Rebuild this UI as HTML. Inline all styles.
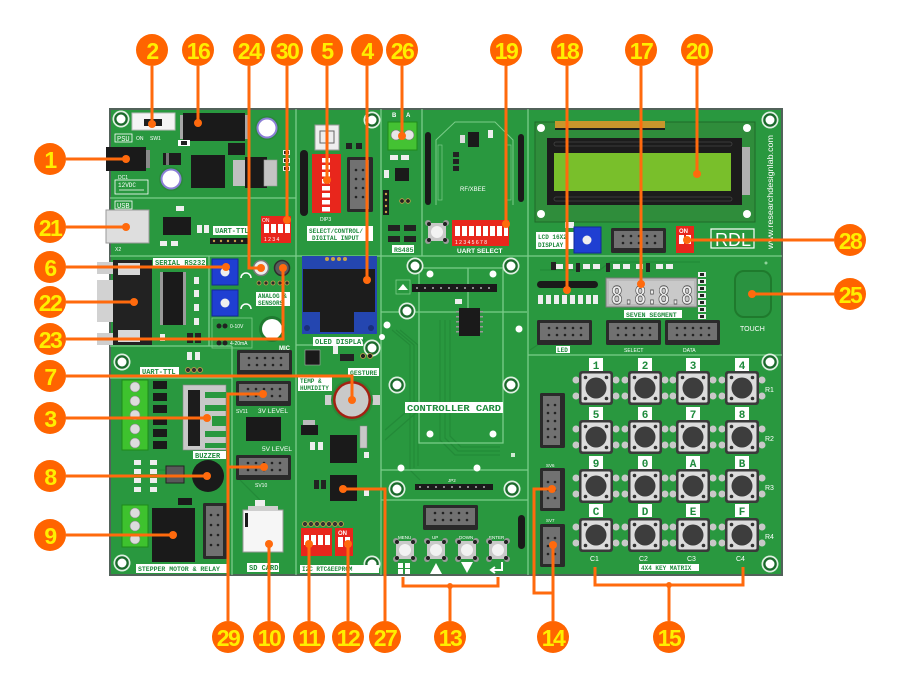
<!DOCTYPE html>
<html><head><meta charset="utf-8"><style>
html,body{margin:0;padding:0;background:#fff;}
svg{display:block;}
.l{font-family:"Liberation Mono",monospace;font-weight:bold;fill:#1e8a3c;}
.w{font-family:"Liberation Sans",sans-serif;fill:#fff;}
.m{font-family:"Liberation Mono",monospace;fill:#fff;}
.n{font-family:"Liberation Sans",sans-serif;font-weight:bold;font-size:23px;fill:#ffee00;text-anchor:middle;letter-spacing:-1.5px;}
.k{font-family:"Liberation Mono",monospace;font-weight:bold;font-size:11px;fill:#1e8a3c;text-anchor:middle;}
</style></head><body>
<svg width="900" height="690" viewBox="0 0 900 690" xmlns="http://www.w3.org/2000/svg">
<defs>
 <g id="hole"><circle r="8.5" fill="#dff0e2"/><circle r="6.8" fill="#1a6a2b"/><circle r="4.5" fill="#fff"/></g>
 <g id="key">
  <g fill="#c8c8c8"><circle cx="-20" cy="-8" r="3.5"/><circle cx="-20" cy="8" r="3.5"/><circle cx="20" cy="-8" r="3.5"/><circle cx="20" cy="8" r="3.5"/></g>
  <rect x="-17" y="-17" width="34" height="34" rx="3" fill="#3a3a3a"/>
  <rect x="-14.5" y="-14.5" width="29" height="29" rx="1.5" fill="#dcdcdc"/>
  <circle r="10.5" fill="#3d3d3d"/>
  <g fill="#333"><circle cx="-10.5" cy="-10.5" r="1.8"/><circle cx="10.5" cy="-10.5" r="1.8"/><circle cx="-10.5" cy="10.5" r="1.8"/><circle cx="10.5" cy="10.5" r="1.8"/></g>
 </g>
 <g id="hdr">
  <rect width="55" height="25" rx="1.5" fill="#2a2a2a"/><rect x="3" y="3" width="49" height="17" fill="#717171"/><rect x="21" y="20" width="13" height="5" fill="#2a2a2a"/>
  <g fill="#222"><circle cx="12" cy="8" r="1.3"/><circle cx="20" cy="8" r="1.3"/><circle cx="28" cy="8" r="1.3"/><circle cx="36" cy="8" r="1.3"/><circle cx="44" cy="8" r="1.3"/><circle cx="12" cy="15" r="1.3"/><circle cx="20" cy="15" r="1.3"/><circle cx="28" cy="15" r="1.3"/><circle cx="36" cy="15" r="1.3"/><circle cx="44" cy="15" r="1.3"/></g>
 </g>
 <g id="vhdr">
  <rect width="25" height="55" rx="1.5" fill="#2a2a2a"/><rect x="3" y="3" width="17" height="49" fill="#717171"/><rect x="20" y="21" width="5" height="13" fill="#2a2a2a"/>
  <g fill="#222"><circle cx="8" cy="12" r="1.3"/><circle cx="15" cy="12" r="1.3"/><circle cx="8" cy="20" r="1.3"/><circle cx="15" cy="20" r="1.3"/><circle cx="8" cy="28" r="1.3"/><circle cx="15" cy="28" r="1.3"/><circle cx="8" cy="36" r="1.3"/><circle cx="15" cy="36" r="1.3"/><circle cx="8" cy="44" r="1.3"/><circle cx="15" cy="44" r="1.3"/></g>
 </g>
 <g id="vhdr2">
  <rect width="25" height="43" rx="1.5" fill="#2a2a2a"/><rect x="3" y="3" width="17" height="37" fill="#717171"/><rect x="20" y="15" width="5" height="13" fill="#2a2a2a"/>
  <g fill="#222"><circle cx="8" cy="14" r="1.3"/><circle cx="15" cy="14" r="1.3"/><circle cx="8" cy="22" r="1.3"/><circle cx="15" cy="22" r="1.3"/><circle cx="8" cy="30" r="1.3"/><circle cx="15" cy="30" r="1.3"/></g>
 </g>
 <g id="tact">
  <g fill="#9a9a9a"><circle cx="-9" cy="-9" r="3"/><circle cx="9" cy="-9" r="3"/><circle cx="-9" cy="9" r="3"/><circle cx="9" cy="9" r="3"/></g>
  <rect x="-9" y="-9" width="18" height="18" rx="2" fill="#c9c9c9"/>
  <circle r="6" fill="#f2f2f2"/>
  <g fill="#222"><circle cx="-8" cy="-8" r="2"/><circle cx="8" cy="-8" r="2"/><circle cx="-8" cy="8" r="2"/><circle cx="8" cy="8" r="2"/></g>
 </g>
 <g id="cap"><circle r="12" fill="#2a8a3a"/><circle r="10.5" fill="#8b7fd6"/><circle r="8.5" fill="#fff"/></g>
</defs>

<!-- BOARD -->
<rect x="110" y="109" width="672" height="466" fill="#29983f" stroke="#52625a" stroke-width="2"/>

<!-- traces (texture) -->
<g stroke="#238a38" stroke-width="1.2" fill="none">
 <path d="M392 330 L410 345 V470 L420 480"/><path d="M396 330 L414 345 V468"/><path d="M400 330 L418 345 V466"/>
 <path d="M440 320 V440 L455 455 H500"/><path d="M445 320 V438 L458 451 H500"/><path d="M450 320 V436 L461 447 H500"/>
 <path d="M385 430 L420 400"/><path d="M385 440 L425 405"/>
 <path d="M540 270 H600 L610 262 H700"/><path d="M530 350 L545 340"/>
 <path d="M150 470 H165"/><path d="M240 480 L260 500"/>
</g>

<!-- section lines -->
<g stroke="#7ccd8a" stroke-width="1.3" fill="none">
 <path d="M296 109 V575"/><path d="M381 109 V575"/><path d="M528 109 V575"/>
 <path d="M110 198 H296"/><path d="M110 256 H782"/>
 <path d="M209 256 V346"/><path d="M110 346 H232"/><path d="M232 346 V575"/>
 <path d="M110 378 H232"/><path d="M528 355 H782"/>
 <path d="M422 109 V256"/>
 <path d="M381 312 H527"/><path d="M381 500 H528"/><path d="M381 470 H528"/>
 <path d="M419 268 H503 V443 H419 Z"/><path d="M468 268 V312"/>
 <path d="M296 345 H381"/>
</g>

<!-- mounting holes -->
<use href="#hole" x="121" y="119"/><use href="#hole" x="372" y="120"/><use href="#hole" x="770" y="120"/>
<use href="#hole" x="122" y="362"/><use href="#hole" x="122" y="563"/><use href="#hole" x="372" y="564"/>
<use href="#hole" x="372" y="348"/><use href="#hole" x="770" y="362"/><use href="#hole" x="770" y="564"/>
<use href="#hole" x="415" y="266"/><use href="#hole" x="511" y="266"/><use href="#hole" x="407" y="311"/>
<use href="#hole" x="397" y="385"/><use href="#hole" x="511" y="385"/><use href="#hole" x="397" y="489"/><use href="#hole" x="512" y="489"/>
<g fill="#fff"><circle cx="430" cy="274" r="3.5"/><circle cx="493" cy="274" r="3.5"/><circle cx="387" cy="325" r="3.5"/><circle cx="519" cy="329" r="3.5"/><circle cx="430" cy="434" r="3.5"/><circle cx="493" cy="434" r="3.5"/><circle cx="401" cy="468" r="3.5"/><circle cx="477" cy="468" r="3.5"/><circle cx="382" cy="337" r="3"/></g>

<!-- ===== PSU ===== -->
<rect x="132" y="113" width="43" height="17" fill="#f4f4f4" stroke="#bbb"/>
<rect x="144" y="119" width="18" height="7" fill="#1e1e1e"/>
<text x="136" y="140" class="w" font-size="5">ON</text><text x="150" y="140" class="w" font-size="5">SW1</text>
<rect x="115" y="134" width="17" height="8" fill="none" stroke="#fff" stroke-width="0.8"/><text x="117" y="141" class="m" font-size="7">PSU</text>
<rect x="145" y="150" width="5" height="18" fill="#8a8a8a"/>
<rect x="106" y="147" width="40" height="24" fill="#1a1a1a"/>
<text x="118" y="179" class="w" font-size="5">DC1</text>
<rect x="115" y="180" width="33" height="14" fill="none" stroke="#fff" stroke-width="0.8"/><text x="118" y="187" class="m" font-size="6">12VDC</text>
<path d="M119 190 H144" stroke="#fff" stroke-width="0.8"/>
<rect x="180" y="115" width="68" height="24" fill="#a8a8a8"/>
<rect x="183" y="113" width="62" height="28" fill="#1a1a1a"/>
<use href="#cap" x="267" y="128"/><use href="#cap" x="171" y="179"/>
<rect x="163" y="153" width="18" height="12" fill="#1c1c1c"/><rect x="166" y="153" width="3" height="12" fill="#777"/>
<rect x="228" y="143" width="17" height="12" fill="#1c1c1c"/>
<rect x="178" y="140" width="12" height="6" fill="#fff"/><rect x="181" y="141" width="6" height="4" fill="#222"/>
<rect x="191" y="155" width="34" height="33" fill="#1a1a1a"/>
<rect x="233" y="160" width="12" height="26" fill="#c0c0c0"/>
<rect x="245" y="157" width="22" height="31" fill="#1a1a1a"/><rect x="264" y="160" width="13" height="26" fill="#c4c4c4" stroke="#999" stroke-width="0.6"/>
<g fill="#eee"><rect x="283" y="150" width="7" height="5"/><rect x="283" y="158" width="7" height="5"/><rect x="283" y="166" width="7" height="5"/></g>
<g fill="#222"><rect x="284" y="151" width="5" height="3"/><rect x="284" y="159" width="5" height="3"/><rect x="284" y="167" width="5" height="3"/></g>

<!-- ===== USB ===== -->
<rect x="115" y="201" width="17" height="8" fill="none" stroke="#fff" stroke-width="0.8"/><text x="117" y="208" class="m" font-size="7">USB</text>
<rect x="106" y="210" width="43" height="33" fill="#dedede" stroke="#9a9a9a"/>
<text x="115" y="251" class="w" font-size="5">X2</text>
<rect x="163" y="217" width="28" height="18" fill="#1a1a1a"/>
<rect x="176" y="206" width="8" height="5" fill="#eee"/>
<g fill="#eee"><rect x="197" y="225" width="5" height="8"/><rect x="204" y="225" width="5" height="8"/><rect x="160" y="241" width="7" height="5"/><rect x="171" y="241" width="7" height="5"/></g>
<rect x="213" y="226" width="36" height="9" fill="#fff"/><text x="215" y="233" class="l" font-size="7">UART-TTL</text>
<rect x="210" y="238" width="40" height="6" fill="#1a1a1a"/>
<g fill="#c9a24a"><circle cx="214" cy="241" r="1.2"/><circle cx="221" cy="241" r="1.2"/><circle cx="228" cy="241" r="1.2"/><circle cx="235" cy="241" r="1.2"/><circle cx="242" cy="241" r="1.2"/></g>
<rect x="261" y="216" width="30" height="27" fill="#e8261c"/>
<text x="262" y="222" class="w" font-size="5">ON</text>
<g fill="#fff"><rect x="264" y="224" width="5" height="9"/><rect x="271" y="224" width="5" height="9"/><rect x="278" y="224" width="5" height="9"/><rect x="285" y="224" width="5" height="9"/></g>
<text x="264" y="241" class="w" font-size="5">1 2 3 4</text>

<!-- ===== SERIAL ===== -->
<rect x="97" y="280" width="17" height="42" fill="#d2d2d2"/>
<rect x="97" y="262" width="22" height="12" fill="#cfcfcf"/><rect x="97" y="333" width="22" height="12" fill="#cfcfcf"/>
<rect x="113" y="260" width="39" height="85" fill="#222"/>
<rect x="118" y="263" width="22" height="12" fill="#d8d8d8"/><rect x="118" y="330" width="22" height="12" fill="#d8d8d8"/>
<rect x="153" y="258" width="53" height="9" fill="#fff"/><text x="155" y="265" class="l" font-size="7">SERIAL RS232</text>
<rect x="160" y="272" width="26" height="53" fill="#9a9a9a"/><rect x="163" y="272" width="20" height="53" fill="#1a1a1a"/>
<g fill="#eee"><rect x="194" y="277" width="5" height="7"/><rect x="194" y="290" width="5" height="7"/><rect x="194" y="304" width="5" height="7"/><rect x="194" y="318" width="5" height="7"/><rect x="160" y="334" width="5" height="7"/></g>
<rect x="187" y="333" width="6" height="10" fill="#222"/><rect x="195" y="333" width="6" height="10" fill="#222"/>

<!-- ===== ANALOG ===== -->
<rect x="212" y="259" width="26" height="26" fill="#1f3fd2" stroke="#13289a"/><circle cx="225" cy="272" r="4.5" fill="#eee"/>
<rect x="212" y="290" width="26" height="26" fill="#1f3fd2" stroke="#13289a"/><circle cx="225" cy="303" r="4.5" fill="#eee"/>
<path d="M241 278 a5 5 0 0 1 10 0" stroke="#fff" fill="none" stroke-width="1.5"/><path d="M241 309 a5 5 0 0 1 10 0" stroke="#fff" fill="none" stroke-width="1.5"/>
<circle cx="261" cy="268" r="7.5" fill="#ececec" stroke="#7a7a7a" stroke-width="1.5"/>
<circle cx="282" cy="268" r="7.5" fill="#5a5a5a" stroke="#2e2e2e" stroke-width="1.5"/>
<g fill="#2a2a2a" stroke="#c9a24a" stroke-width="0.8"><circle cx="259" cy="283" r="2"/><circle cx="266" cy="283" r="2"/><circle cx="273" cy="283" r="2"/><circle cx="280" cy="283" r="2"/><circle cx="287" cy="283" r="2"/></g>
<rect x="256" y="292" width="34" height="14" fill="#fff"/><text x="258" y="298" class="l" font-size="6">ANALOG &amp;</text><text x="258" y="305" class="l" font-size="6">SENSORS</text>
<rect x="212" y="318" width="40" height="30" fill="none" stroke="#7ccd8a" stroke-width="0.8"/>
<g fill="#222"><circle cx="219" cy="326" r="2.5"/><circle cx="225" cy="326" r="2.5"/><circle cx="219" cy="343" r="2.5"/><circle cx="225" cy="343" r="2.5"/></g>
<text x="230" y="328" class="w" font-size="5">0-10V</text><text x="230" y="345" class="w" font-size="5">4-20mA</text>
<circle cx="272" cy="329" r="13" fill="#1f7a30"/><circle cx="272" cy="329" r="10" fill="#fff"/>
<text x="279" y="350" class="w" font-size="6" font-weight="bold">MIC</text>
<use href="#hdr" x="237" y="350"/>

<!-- UART-TTL bottom left -->
<rect x="140" y="367" width="39" height="8" fill="#fff"/><text x="142" y="374" class="l" font-size="7">UART-TTL</text>
<g fill="#333" stroke="#c9a24a" stroke-width="0.8"><circle cx="188" cy="370" r="2.5"/><circle cx="194" cy="370" r="2.5"/><circle cx="200" cy="370" r="2.5"/></g>
<g fill="#eee"><rect x="187" y="352" width="5" height="8"/><rect x="195" y="352" width="5" height="8"/></g>

<!-- ===== STEPPER & RELAY ===== -->
<rect x="122" y="380" width="26" height="70" fill="#3ec22e" stroke="#1e8a1a"/>
<g fill="#dcdcdc" stroke="#888" stroke-width="0.6"><circle cx="135" cy="387" r="5"/><circle cx="135" cy="401" r="5"/><circle cx="135" cy="415" r="5"/><circle cx="135" cy="429" r="5"/><circle cx="135" cy="443" r="5"/></g>
<g fill="#1a1a1a"><rect x="153" y="381" width="14" height="8"/><rect x="153" y="393" width="14" height="8"/><rect x="153" y="405" width="14" height="8"/><rect x="153" y="417" width="14" height="8"/><rect x="153" y="429" width="14" height="8"/><rect x="153" y="441" width="14" height="8"/></g>
<rect x="183" y="385" width="43" height="65" fill="#c8c8c8" stroke="#888" stroke-width="0.6"/>
<g fill="#29983f"><rect x="205" y="392" width="21" height="6"/><rect x="205" y="405" width="21" height="6"/><rect x="212" y="416" width="14" height="10"/><rect x="205" y="431" width="21" height="6"/><rect x="205" y="443" width="21" height="5"/></g>
<rect x="188" y="390" width="12" height="56" fill="#1c1c1c"/>
<rect x="193" y="451" width="33" height="8" fill="#fff"/><text x="195" y="458" class="l" font-size="7">BUZZER</text>
<g fill="#eee"><rect x="134" y="460" width="7" height="5"/><rect x="134" y="469" width="7" height="5"/><rect x="134" y="478" width="7" height="5"/><rect x="134" y="487" width="7" height="5"/><rect x="150" y="460" width="7" height="5"/><rect x="150" y="469" width="7" height="5"/><rect x="150" y="478" width="7" height="5"/><rect x="150" y="487" width="7" height="5"/></g>
<rect x="166" y="466" width="18" height="17" fill="#595959" stroke="#222"/>
<circle cx="208" cy="476" r="16" fill="#1a1a1a"/><circle cx="208" cy="476" r="2" fill="#555"/>
<rect x="178" y="498" width="14" height="7" fill="#1a1a1a"/>
<rect x="122" y="505" width="26" height="42" fill="#3ec22e" stroke="#1e8a1a"/>
<g fill="#dcdcdc" stroke="#888" stroke-width="0.6"><circle cx="135" cy="513" r="5"/><circle cx="135" cy="526" r="5"/><circle cx="135" cy="539" r="5"/></g>
<rect x="152" y="508" width="43" height="54" fill="#1a1a1a"/>
<rect x="203" y="503" width="24" height="56" rx="1.5" fill="#2a2a2a"/><rect x="206" y="506" width="17" height="50" fill="#717171"/>
<g fill="#222"><circle cx="211" cy="515" r="1.3"/><circle cx="218" cy="515" r="1.3"/><circle cx="211" cy="525" r="1.3"/><circle cx="218" cy="525" r="1.3"/><circle cx="211" cy="535" r="1.3"/><circle cx="218" cy="535" r="1.3"/><circle cx="211" cy="545" r="1.3"/><circle cx="218" cy="545" r="1.3"/></g>
<rect x="136" y="564" width="91" height="9" fill="#fff"/><text x="138" y="571" class="l" font-size="6.5">STEPPER MOTOR &amp; RELAY</text>

<!-- ===== 3V/5V / SD ===== -->
<use href="#hdr" x="236" y="381"/>
<text x="258" y="413" class="w" font-size="6.5">3V LEVEL</text><text x="236" y="413" class="w" font-size="5">SV11</text>
<rect x="246" y="417" width="35" height="24" fill="#1a1a1a"/>
<text x="262" y="451" class="w" font-size="6.5">5V LEVEL</text>
<use href="#hdr" x="236" y="455"/>
<text x="255" y="487" class="w" font-size="5">SV10</text>
<rect x="255" y="500" width="10" height="6" fill="#eee"/>
<rect x="243" y="510" width="40" height="42" fill="#f6f6f6" stroke="#9a9a9a"/>
<rect x="248" y="506" width="30" height="5" fill="#cfcfcf"/>
<rect x="245" y="513" width="3" height="14" fill="#1a1a1a"/>
<rect x="247" y="563" width="32" height="9" fill="#fff"/><text x="249" y="570" class="l" font-size="7">SD CARD</text>

<!-- ===== SENSORS / RTC ===== -->
<rect x="305" y="350" width="15" height="15" fill="#1a1a1a" stroke="#aaa" stroke-width="0.6"/>
<rect x="333" y="344" width="5" height="10" fill="#eee"/><rect x="340" y="354" width="14" height="7" fill="#222"/>
<g fill="#222" stroke="#c9a24a" stroke-width="0.8"><circle cx="363" cy="356" r="2.5"/><circle cx="370" cy="356" r="2.5"/></g>
<rect x="348" y="368" width="31" height="8" fill="#fff"/><text x="350" y="375" class="l" font-size="6.5">GESTURE</text>
<rect x="298" y="377" width="34" height="14" fill="#fff"/><text x="300" y="383" class="l" font-size="6">TEMP &amp;</text><text x="300" y="390" class="l" font-size="6">HUMIDITY</text>
<rect x="325" y="395" width="55" height="10" fill="#cfcfcf"/>
<circle cx="352" cy="400" r="21" fill="#2a8a3a"/>
<circle cx="352" cy="400" r="19" fill="#a32012"/><circle cx="352" cy="400" r="16.5" fill="#c9c9c9"/>
<rect x="301" y="425" width="17" height="10" fill="#1a1a1a"/><rect x="303" y="420" width="12" height="5" fill="#bbb"/>
<rect x="330" y="435" width="27" height="28" fill="#1a1a1a"/>
<rect x="360" y="426" width="7" height="22" fill="#c8c8c8" stroke="#888" stroke-width="0.5"/>
<g fill="#eee"><rect x="310" y="442" width="5" height="8"/><rect x="318" y="442" width="5" height="8"/><rect x="364" y="452" width="5" height="6"/><rect x="364" y="490" width="5" height="6"/></g>
<rect x="314" y="480" width="5" height="9" fill="#222"/><rect x="321" y="480" width="5" height="9" fill="#222"/>
<rect x="330" y="475" width="27" height="26" fill="#1a1a1a"/>
<g fill="#333" stroke="#c9a24a" stroke-width="0.8"><circle cx="305" cy="524" r="2.5"/><circle cx="311" cy="524" r="2.5"/><circle cx="317" cy="524" r="2.5"/><circle cx="323" cy="524" r="2.5"/><circle cx="329" cy="524" r="2.5"/><circle cx="335" cy="524" r="2.5"/><circle cx="341" cy="524" r="2.5"/></g>
<rect x="301" y="528" width="31" height="28" fill="#e8261c"/>
<g fill="#fff"><rect x="304" y="535" width="5" height="10"/><rect x="311" y="535" width="5" height="10"/><rect x="318" y="535" width="5" height="10"/><rect x="325" y="535" width="5" height="10"/></g>
<rect x="335" y="528" width="18" height="28" fill="#e8261c"/>
<text x="338" y="535" class="w" font-size="6" font-weight="bold">ON</text>
<g fill="#fff"><rect x="338" y="537" width="5" height="10"/><rect x="345" y="537" width="5" height="10"/></g>
<rect x="300" y="565" width="79" height="8" fill="#fff"/><text x="302" y="571" class="l" font-size="6">I2C RTC&amp;EEPROM</text>

<!-- ===== SELECT / CONTROL ===== -->
<rect x="315" y="125" width="24" height="25" fill="#eeeeee" stroke="#999"/>
<rect x="320" y="131" width="14" height="12" fill="none" stroke="#666"/>
<rect x="300" y="150" width="8" height="66" rx="4" fill="#1a1a1a"/>
<rect x="312" y="154" width="29" height="59" fill="#e8261c"/>
<g fill="#fff"><rect x="322" y="158" width="8" height="4.5"/><rect x="322" y="165" width="8" height="4.5"/><rect x="322" y="172" width="8" height="4.5"/><rect x="322" y="179" width="8" height="4.5"/><rect x="322" y="186" width="8" height="4.5"/><rect x="322" y="193" width="8" height="4.5"/><rect x="322" y="200" width="8" height="4.5"/><rect x="322" y="207" width="8" height="4.5"/></g>
<g fill="#222"><rect x="346" y="143" width="6" height="6"/><rect x="356" y="143" width="6" height="6"/></g>
<rect x="347" y="157" width="26" height="55" rx="1.5" fill="#2a2a2a"/><rect x="350" y="160" width="19" height="49" fill="#717171"/>
<g fill="#222"><circle cx="356" cy="170" r="1.3"/><circle cx="363" cy="170" r="1.3"/><circle cx="356" cy="179" r="1.3"/><circle cx="363" cy="179" r="1.3"/><circle cx="356" cy="188" r="1.3"/><circle cx="363" cy="188" r="1.3"/><circle cx="356" cy="197" r="1.3"/><circle cx="363" cy="197" r="1.3"/></g>
<text x="320" y="221" class="w" font-size="5">DIP3</text>
<rect x="307" y="226" width="66" height="15" fill="#fff"/><text x="309" y="233" class="l" font-size="6">SELECT/CONTROL/</text><text x="312" y="240" class="l" font-size="6">DIGITAL INPUT</text>

<!-- ===== OLED ===== -->
<rect x="302" y="256" width="75" height="78" fill="#2446b0"/>
<g fill="#c9a24a"><circle cx="327" cy="259" r="2"/><circle cx="333" cy="259" r="2"/><circle cx="339" cy="259" r="2"/><circle cx="345" cy="259" r="2"/></g>
<rect x="303" y="269" width="72" height="43" fill="#1c1c1c"/>
<rect x="320" y="310" width="34" height="22" fill="#1c1c1c"/>
<g fill="#1a2f7a"><circle cx="307" cy="328" r="3"/><circle cx="371" cy="328" r="3"/></g>
<rect x="313" y="337" width="50" height="9" fill="#fff"/><text x="315" y="344" class="l" font-size="7">OLED DISPLAY</text>

<!-- ===== RS485 ===== -->
<text x="392" y="117" class="w" font-size="6" font-weight="bold">B</text><text x="406" y="117" class="w" font-size="6" font-weight="bold">A</text>
<rect x="388" y="122" width="29" height="28" fill="#44c233" stroke="#1e8a1a"/>
<g fill="#e6e6e6" stroke="#777" stroke-width="0.6"><circle cx="396" cy="135" r="5"/><circle cx="409" cy="135" r="5"/></g>
<g fill="#eee"><rect x="390" y="155" width="8" height="5"/><rect x="401" y="155" width="8" height="5"/><rect x="384" y="170" width="5" height="8"/></g>
<rect x="395" y="168" width="14" height="13" fill="#1a1a1a"/>
<rect x="383" y="190" width="6" height="25" fill="#1a1a1a"/>
<g fill="#c9a24a"><circle cx="386" cy="194" r="1.2"/><circle cx="386" cy="200" r="1.2"/><circle cx="386" cy="206" r="1.2"/><circle cx="386" cy="212" r="1.2"/></g>
<g fill="#222" stroke="#c9a24a" stroke-width="0.8"><circle cx="402" cy="201" r="2.3"/><circle cx="408" cy="201" r="2.3"/></g>
<g fill="#222"><rect x="388" y="225" width="12" height="6"/><rect x="404" y="225" width="12" height="6"/><rect x="388" y="236" width="12" height="6"/><rect x="404" y="236" width="12" height="6"/></g>
<rect x="392" y="245" width="22" height="8" fill="#fff"/><text x="394" y="252" class="l" font-size="6.5">RS485</text>

<!-- ===== XBEE ===== -->
<rect x="425" y="132" width="6" height="73" rx="3" fill="#1a1a1a"/>
<rect x="518" y="134" width="6" height="68" rx="3" fill="#1a1a1a"/>
<path d="M436 205 V140 L455 122 H495 L513 140 V205" fill="none" stroke="#7ccd8a" stroke-width="1"/>
<rect x="438" y="145" width="4" height="55" fill="none" stroke="#7ccd8a" stroke-width="0.7"/><rect x="507" y="145" width="4" height="55" fill="none" stroke="#7ccd8a" stroke-width="0.7"/>
<rect x="468" y="132" width="11" height="15" fill="#1a1a1a"/><rect x="460" y="135" width="5" height="8" fill="#ddd"/><rect x="488" y="130" width="5" height="8" fill="#eee"/>
<g fill="#222"><rect x="453" y="152" width="6" height="5"/><rect x="453" y="159" width="6" height="5"/><rect x="453" y="166" width="6" height="5"/></g>
<text x="460" y="191" class="w" font-size="6">RF/XBEE</text>
<use href="#tact" x="437" y="232"/>
<rect x="452" y="220" width="57" height="26" fill="#e8261c"/>
<g fill="#fff"><rect x="455" y="226" width="5" height="10"/><rect x="462" y="226" width="5" height="10"/><rect x="469" y="226" width="5" height="10"/><rect x="476" y="226" width="5" height="10"/><rect x="483" y="226" width="5" height="10"/><rect x="490" y="226" width="5" height="10"/><rect x="497" y="226" width="5" height="10"/><rect x="504" y="226" width="4" height="10"/></g>
<text x="455" y="244" class="w" font-size="5">1 2 3 4 5 6 7 8</text>
<text x="457" y="253" class="w" font-size="6.5" font-weight="bold">UART SELECT</text>

<!-- ===== LCD ===== -->
<rect x="535" y="122" width="220" height="100" fill="#2f8d3b" stroke="#1f6a28"/>
<g fill="#c8962c"><rect x="555" y="121" width="110" height="8"/></g>
<g fill="#1e1e1e"><rect x="555" y="128" width="110" height="2"/></g>
<g fill="#fff"><circle cx="541" cy="128" r="4"/><circle cx="747" cy="128" r="4"/><circle cx="541" cy="214" r="4"/><circle cx="747" cy="214" r="4"/></g>
<rect x="547" y="138" width="195" height="67" fill="#1c1c1c"/>
<rect x="554" y="142" width="178" height="4" rx="2" fill="none" stroke="#444" stroke-width="0.8"/>
<rect x="554" y="197" width="178" height="4" rx="2" fill="none" stroke="#444" stroke-width="0.8"/>
<rect x="554" y="153" width="177" height="38" fill="#79bf2b"/>
<rect x="742" y="147" width="8" height="48" fill="#b0b0b0"/>
<rect x="536" y="232" width="38" height="17" fill="#fff"/><text x="538" y="239" class="l" font-size="6">LCD 16X2</text><text x="538" y="247" class="l" font-size="6">DISPLAY</text>
<rect x="565" y="222" width="9" height="6" fill="#eee"/>
<rect x="574" y="227" width="27" height="26" fill="#1f3fd2" stroke="#13289a"/><circle cx="587" cy="240" r="4.5" fill="#eee"/>
<use href="#hdr" x="611" y="228"/>
<rect x="676" y="226" width="18" height="27" fill="#e8261c"/>
<text x="679" y="233" class="w" font-size="6" font-weight="bold">ON</text>
<g fill="#fff"><rect x="679" y="235" width="5" height="9"/><rect x="686" y="235" width="5" height="9"/></g>
<rect x="711" y="229" width="43" height="19" fill="none" stroke="#fff" stroke-width="1.2"/>
<text x="715" y="246" class="w" font-size="18">RDL</text>
<text transform="translate(773,249) rotate(-90)" class="w" font-size="8" textLength="114" lengthAdjust="spacingAndGlyphs">www.researchdesignlab.com</text>

<!-- ===== SEVEN SEGMENT ===== -->
<g fill="#222"><rect x="551" y="262" width="5" height="8"/><rect x="576" y="263" width="4" height="9"/><rect x="606" y="263" width="4" height="9"/><rect x="646" y="263" width="4" height="9"/></g>
<g fill="#eee"><rect x="556" y="264" width="7" height="5"/><rect x="566" y="264" width="7" height="5"/><rect x="583" y="264" width="7" height="5"/><rect x="593" y="264" width="7" height="5"/><rect x="613" y="264" width="7" height="5"/><rect x="623" y="264" width="7" height="5"/><rect x="636" y="264" width="7" height="5"/><rect x="656" y="264" width="7" height="5"/><rect x="666" y="264" width="7" height="5"/></g>
<rect x="537" y="281" width="61" height="7" rx="3.5" fill="#1a1a1a"/>
<g fill="#eee"><rect x="538" y="295" width="5" height="9"/><rect x="546" y="295" width="5" height="9"/><rect x="554" y="295" width="5" height="9"/><rect x="562" y="295" width="5" height="9"/><rect x="570" y="295" width="5" height="9"/><rect x="578" y="295" width="5" height="9"/><rect x="586" y="295" width="5" height="9"/><rect x="593" y="295" width="5" height="9"/></g>
<rect x="606" y="278" width="91" height="29" fill="#b9b9b9" stroke="#7a7a7a"/>
<rect x="609" y="281" width="85" height="23" fill="#c9c9c9"/>
<text x="611" y="304" font-family="Liberation Mono, monospace" font-weight="bold" font-size="27" fill="#eeeeee" stroke="#555" stroke-width="0.9" textLength="82" lengthAdjust="spacingAndGlyphs">8.8:8.8</text>
<rect x="624" y="310" width="58" height="8" fill="#fff"/><text x="626" y="317" class="l" font-size="6.5">SEVEN SEGMENT</text>
<g fill="#eee"><rect x="698" y="272" width="8" height="5"/><rect x="698" y="279" width="8" height="5"/><rect x="698" y="286" width="8" height="5"/><rect x="698" y="293" width="8" height="5"/><rect x="698" y="300" width="8" height="5"/><rect x="698" y="307" width="8" height="5"/><rect x="698" y="314" width="8" height="5"/></g>
<g fill="#222"><rect x="700" y="273" width="4" height="3"/><rect x="700" y="280" width="4" height="3"/><rect x="700" y="287" width="4" height="3"/><rect x="700" y="294" width="4" height="3"/><rect x="700" y="301" width="4" height="3"/><rect x="700" y="308" width="4" height="3"/><rect x="700" y="315" width="4" height="3"/></g>
<use href="#hdr" x="537" y="320"/><use href="#hdr" x="606" y="320"/><use href="#hdr" x="665" y="320"/>
<rect x="556" y="346" width="14" height="7" fill="#fff"/><text x="557" y="352" class="l" font-size="6">LED</text>
<text x="624" y="352" class="w" font-size="5">SELECT</text><text x="683" y="352" class="w" font-size="5">DATA</text>
<rect x="735" y="271" width="36" height="46" rx="9" fill="#2a9240" stroke="#1f7a2d" stroke-width="2"/>
<text x="740" y="331" class="w" font-size="7">TOUCH</text>
<circle cx="766" cy="263" r="1.5" fill="#8fd39b"/>

<!-- ===== KEYPAD ===== -->
<use href="#vhdr" x="540" y="393"/>
<use href="#vhdr2" x="540" y="468"/>
<use href="#vhdr2" x="540" y="524"/>
<text x="546" y="467" class="w" font-size="4.5">SV6</text><text x="546" y="522" class="w" font-size="4.5">SV7</text>
<g>
<use href="#key" x="596" y="388"/><use href="#key" x="645" y="388"/><use href="#key" x="693" y="388"/><use href="#key" x="742" y="388"/>
<use href="#key" x="596" y="437"/><use href="#key" x="645" y="437"/><use href="#key" x="693" y="437"/><use href="#key" x="742" y="437"/>
<use href="#key" x="596" y="486"/><use href="#key" x="645" y="486"/><use href="#key" x="693" y="486"/><use href="#key" x="742" y="486"/>
<use href="#key" x="596" y="535"/><use href="#key" x="645" y="535"/><use href="#key" x="693" y="535"/><use href="#key" x="742" y="535"/>
</g>
<g fill="#fff">
<rect x="589" y="358" width="14" height="13"/><rect x="638" y="358" width="14" height="13"/><rect x="686" y="358" width="14" height="13"/><rect x="735" y="358" width="14" height="13"/>
<rect x="589" y="407" width="14" height="13"/><rect x="638" y="407" width="14" height="13"/><rect x="686" y="407" width="14" height="13"/><rect x="735" y="407" width="14" height="13"/>
<rect x="589" y="456" width="14" height="13"/><rect x="638" y="456" width="14" height="13"/><rect x="686" y="456" width="14" height="13"/><rect x="735" y="456" width="14" height="13"/>
<rect x="589" y="504" width="14" height="13"/><rect x="638" y="504" width="14" height="13"/><rect x="686" y="504" width="14" height="13"/><rect x="735" y="504" width="14" height="13"/>
</g>
<text x="596" y="369" class="k">1</text><text x="645" y="369" class="k">2</text><text x="693" y="369" class="k">3</text><text x="742" y="369" class="k">4</text>
<text x="596" y="418" class="k">5</text><text x="645" y="418" class="k">6</text><text x="693" y="418" class="k">7</text><text x="742" y="418" class="k">8</text>
<text x="596" y="467" class="k">9</text><text x="645" y="467" class="k">0</text><text x="693" y="467" class="k">A</text><text x="742" y="467" class="k">B</text>
<text x="596" y="515" class="k">C</text><text x="645" y="515" class="k">D</text><text x="693" y="515" class="k">E</text><text x="742" y="515" class="k">F</text>
<text x="765" y="392" class="w" font-size="7">R1</text><text x="765" y="441" class="w" font-size="7">R2</text><text x="765" y="490" class="w" font-size="7">R3</text><text x="765" y="539" class="w" font-size="7">R4</text>
<text x="590" y="561" class="w" font-size="7">C1</text><text x="639" y="561" class="w" font-size="7">C2</text><text x="687" y="561" class="w" font-size="7">C3</text><text x="736" y="561" class="w" font-size="7">C4</text>
<rect x="639" y="564" width="60" height="7" fill="#fff"/><text x="641" y="570" class="l" font-size="6">4X4 KEY MATRIX</text>

<!-- ===== CONTROLLER CARD ===== -->
<rect x="396" y="280" width="14" height="14" fill="none" stroke="#7ccd8a" stroke-width="0.8"/>
<path d="M398 290 L403 284 L408 290 Z" fill="#fff"/>
<rect x="412" y="284" width="85" height="8" fill="#1a1a1a"/>
<g fill="#ddd"><circle cx="417" cy="288" r="0.9"/><circle cx="425" cy="288" r="0.9"/><circle cx="433" cy="288" r="0.9"/><circle cx="441" cy="288" r="0.9"/><circle cx="449" cy="288" r="0.9"/><circle cx="457" cy="288" r="0.9"/><circle cx="465" cy="288" r="0.9"/><circle cx="473" cy="288" r="0.9"/><circle cx="481" cy="288" r="0.9"/><circle cx="489" cy="288" r="0.9"/></g>
<rect x="455" y="299" width="7" height="5" fill="#eee"/>
<rect x="459" y="308" width="21" height="28" fill="#1a1a1a"/>
<g fill="#999"><rect x="456" y="311" width="3" height="1.5"/><rect x="456" y="316" width="3" height="1.5"/><rect x="456" y="321" width="3" height="1.5"/><rect x="456" y="326" width="3" height="1.5"/><rect x="456" y="331" width="3" height="1.5"/><rect x="480" y="311" width="3" height="1.5"/><rect x="480" y="316" width="3" height="1.5"/><rect x="480" y="321" width="3" height="1.5"/><rect x="480" y="326" width="3" height="1.5"/><rect x="480" y="331" width="3" height="1.5"/></g>
<rect x="405" y="402" width="98" height="11" fill="#fff"/><text x="407" y="411" class="l" font-size="9.5" textLength="94" lengthAdjust="spacingAndGlyphs">CONTROLLER CARD</text>
<rect x="415" y="484" width="78" height="6" fill="#1a1a1a"/>
<g fill="#ddd"><circle cx="420" cy="487" r="0.9"/><circle cx="428" cy="487" r="0.9"/><circle cx="436" cy="487" r="0.9"/><circle cx="444" cy="487" r="0.9"/><circle cx="452" cy="487" r="0.9"/><circle cx="460" cy="487" r="0.9"/><circle cx="468" cy="487" r="0.9"/><circle cx="476" cy="487" r="0.9"/><circle cx="484" cy="487" r="0.9"/></g>
<text x="448" y="482" class="w" font-size="4.5">JP2</text>
<rect x="511" y="453" width="4" height="4" fill="#cfe9d3"/>

<!-- bottom center buttons -->
<use href="#hdr" x="423" y="505"/>
<rect x="518" y="515" width="7" height="34" rx="3.5" fill="#1a1a1a"/>
<text x="398" y="539" class="w" font-size="4.5">MENU</text><text x="432" y="539" class="w" font-size="4.5">UP</text><text x="459" y="539" class="w" font-size="4.5">DOWN</text><text x="489" y="539" class="w" font-size="4.5">ENTER</text>
<use href="#tact" x="405" y="550"/><use href="#tact" x="436" y="550"/><use href="#tact" x="467" y="550"/><use href="#tact" x="498" y="550"/>
<g fill="#fff"><rect x="398" y="563" width="5" height="5"/><rect x="405" y="563" width="5" height="5"/><rect x="398" y="569" width="5" height="5"/><rect x="405" y="569" width="5" height="5"/>
<path d="M430 574 L436 563 L442 574 Z"/><path d="M461 562 L473 562 L467 573 Z"/></g>
<path d="M502 562 V570 H492 M495 567 L491 570 L495 573" stroke="#fff" stroke-width="2" fill="none"/>

<!-- ===== CALLOUT LINES ===== -->
<g stroke="#ff6a0d" stroke-width="3" fill="none" stroke-linejoin="miter">
 <path d="M66 159 H126"/><path d="M152 66 V124"/><path d="M198 66 V123"/><path d="M249 66 V268 H261"/>
 <path d="M287 66 V220"/><path d="M327 66 V180"/><path d="M367 66 V280"/><path d="M402 66 V136"/>
 <path d="M506 66 V224"/><path d="M567 66 V290"/><path d="M641 66 V284"/><path d="M697 66 V174"/>
 <path d="M834 240 H687"/><path d="M834 294 H752"/>
 <path d="M66 227 H126"/><path d="M66 267 H226"/><path d="M66 302 H134"/><path d="M66 339 H283 V268"/>
 <path d="M66 376 H352 V400"/><path d="M66 418 H207"/><path d="M66 476 H207"/><path d="M66 535 H173"/>
 <path d="M228 621 V394 H263"/><path d="M228 467 H264"/>
 <path d="M269 621 V544"/><path d="M309 621 V544"/><path d="M348 621 V544"/><path d="M385 621 V489 H343"/>
 <path d="M450 621 V586"/><path d="M403 577 V586 H498 V577"/>
 <path d="M553 621 V545"/><path d="M553 593 H534 V489 H552"/>
 <path d="M669 621 V585"/><path d="M595 567 V585 H743 V567"/>
</g>
<g fill="#ff6a0d">
 <circle cx="126" cy="159" r="4"/><circle cx="152" cy="124" r="4"/><circle cx="198" cy="123" r="4"/><circle cx="261" cy="268" r="4"/>
 <circle cx="287" cy="220" r="4"/><circle cx="327" cy="180" r="4"/><circle cx="367" cy="280" r="4"/><circle cx="402" cy="136" r="4"/>
 <circle cx="506" cy="224" r="4"/><circle cx="567" cy="290" r="4"/><circle cx="641" cy="284" r="4"/><circle cx="697" cy="174" r="4"/>
 <circle cx="687" cy="240" r="4"/><circle cx="752" cy="294" r="4"/>
 <circle cx="126" cy="227" r="4"/><circle cx="226" cy="267" r="4"/><circle cx="134" cy="302" r="4"/><circle cx="283" cy="268" r="4"/>
 <circle cx="352" cy="400" r="4"/><circle cx="207" cy="418" r="4"/><circle cx="207" cy="476" r="4"/><circle cx="173" cy="535" r="4"/>
 <circle cx="263" cy="394" r="4"/><circle cx="264" cy="467" r="4"/>
 <circle cx="269" cy="544" r="4"/><circle cx="309" cy="544" r="4"/><circle cx="348" cy="544" r="4"/><circle cx="343" cy="489" r="4"/>
 <circle cx="450" cy="586" r="3"/><circle cx="553" cy="545" r="4"/><circle cx="552" cy="489" r="4"/><circle cx="669" cy="585" r="3"/>
</g>

<!-- ===== NUMBER BADGES ===== -->
<g fill="#ff6400">
 <circle cx="152" cy="50" r="16"/><circle cx="198" cy="50" r="16"/><circle cx="249" cy="50" r="16"/><circle cx="287" cy="50" r="16"/>
 <circle cx="327" cy="50" r="16"/><circle cx="367" cy="50" r="16"/><circle cx="402" cy="50" r="16"/>
 <circle cx="506" cy="50" r="16"/><circle cx="567" cy="50" r="16"/><circle cx="641" cy="50" r="16"/><circle cx="697" cy="50" r="16"/>
 <circle cx="50" cy="159" r="16"/><circle cx="50" cy="227" r="16"/><circle cx="50" cy="267" r="16"/><circle cx="50" cy="302" r="16"/>
 <circle cx="50" cy="339" r="16"/><circle cx="50" cy="376" r="16"/><circle cx="50" cy="418" r="16"/><circle cx="50" cy="476" r="16"/><circle cx="50" cy="535" r="16"/>
 <circle cx="228" cy="637" r="16"/><circle cx="269" cy="637" r="16"/><circle cx="309" cy="637" r="16"/><circle cx="348" cy="637" r="16"/>
 <circle cx="385" cy="637" r="16"/><circle cx="450" cy="637" r="16"/><circle cx="553" cy="637" r="16"/><circle cx="669" cy="637" r="16"/>
 <circle cx="850" cy="240" r="16"/><circle cx="850" cy="294" r="16"/>
</g>
<g>
 <text x="152" y="59" class="n">2</text><text x="198" y="59" class="n">16</text><text x="249" y="59" class="n">24</text><text x="287" y="59" class="n">30</text>
 <text x="327" y="59" class="n">5</text><text x="367" y="59" class="n">4</text><text x="402" y="59" class="n">26</text>
 <text x="506" y="59" class="n">19</text><text x="567" y="59" class="n">18</text><text x="641" y="59" class="n">17</text><text x="697" y="59" class="n">20</text>
 <text x="50" y="168" class="n">1</text><text x="50" y="236" class="n">21</text><text x="50" y="276" class="n">6</text><text x="50" y="311" class="n">22</text>
 <text x="50" y="348" class="n">23</text><text x="50" y="385" class="n">7</text><text x="50" y="427" class="n">3</text><text x="50" y="485" class="n">8</text><text x="50" y="544" class="n">9</text>
 <text x="228" y="646" class="n">29</text><text x="269" y="646" class="n">10</text><text x="309" y="646" class="n">11</text><text x="348" y="646" class="n">12</text>
 <text x="385" y="646" class="n">27</text><text x="450" y="646" class="n">13</text><text x="553" y="646" class="n">14</text><text x="669" y="646" class="n">15</text>
 <text x="850" y="249" class="n">28</text><text x="850" y="303" class="n">25</text>
</g>
</svg>
</body></html>
